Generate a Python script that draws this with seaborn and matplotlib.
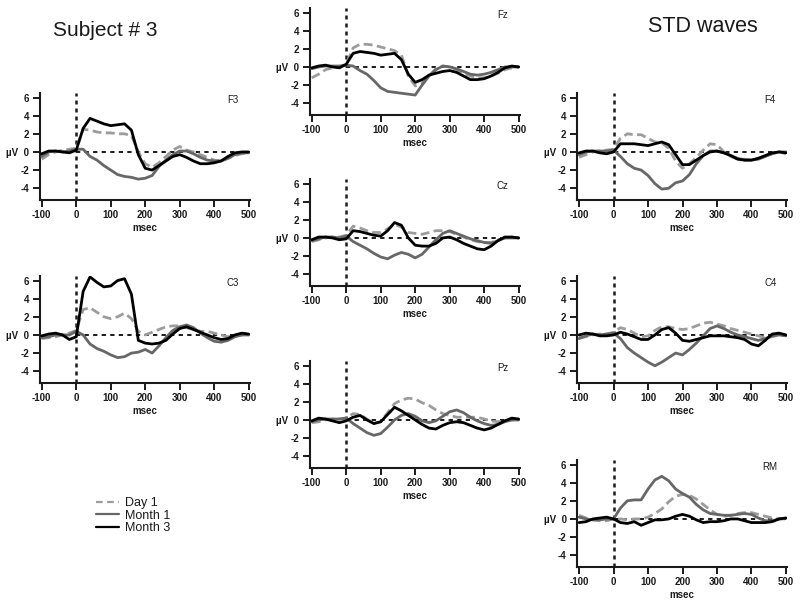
import numpy as np
import pandas as pd
import matplotlib
matplotlib.use("Agg")
import matplotlib.pyplot as plt
import seaborn as sns
from matplotlib.lines import Line2D

sns.set_theme(style="white")
plt.rcParams['font.family'] = ['Liberation Sans', 'DejaVu Sans']
plt.rcParams['text.color'] = 'black'
plt.rcParams['axes.labelcolor'] = 'black'
plt.rcParams['xtick.color'] = 'black'
plt.rcParams['ytick.color'] = 'black'

# ---------------- data ----------------
msec = [-100, -80, -60, -40, -20, 0, 20, 40, 60, 80, 100, 120, 140, 160, 180, 200,
        220, 240, 260, 280, 300, 320, 340, 360, 380, 400, 420, 440, 460, 480, 500]
conditions = ["Day 1", "Month 1", "Month 3"]
x_ticks = [-100, 0, 100, 200, 300, 400, 500]
y_ticks = [-4, -2, 0, 2, 4, 6]
y_tick_labels = ["-4", "-2", "\u00b5V  0", "2", "4", "6"]

F3_day1 = [-0.8, -0.3, 0.0, 0.2, 0.3, 0.4, 2.5, 2.4, 2.2, 2.1, 2.1, 2.0, 2.0, 1.8, 0.0, -1.3,
           -1.7, -1.2, -0.5, 0.2, 0.6, 0.2, 0.0, -0.3, -0.6, -0.9, -1.0, -0.7, -0.4, -0.2, -0.1]
F3_m1 = [-0.5, 0.0, 0.1, 0.0, 0.1, 0.3, 0.3, -0.5, -0.9, -1.5, -2.0, -2.5, -2.7, -2.8, -3.0, -2.9,
         -2.6, -1.6, -0.9, -0.3, 0.1, 0.1, -0.2, -0.6, -0.9, -1.0, -1.0, -0.7, -0.3, -0.1, -0.1]
F3_m3 = [-0.2, 0.1, 0.1, 0.0, -0.1, 0.2, 2.6, 3.7, 3.4, 3.1, 2.9, 3.0, 3.1, 2.4, -0.3, -1.8,
         -2.0, -1.5, -1.0, -0.5, -0.3, -0.6, -1.0, -1.3, -1.3, -1.2, -1.0, -0.5, -0.1, 0.0, 0.0]

C3_day1 = [-0.4, -0.3, -0.2, 0.0, 0.2, 0.5, 2.8, 3.0, 2.5, 2.0, 1.8, 2.0, 2.4, 1.8, 0.4, 0.0,
           0.3, 0.6, 0.9, 1.0, 1.0, 0.8, 0.6, 0.4, 0.4, 0.2, 0.0, -0.2, -0.1, 0.0, 0.0]
C3_m1 = [-0.3, -0.2, 0.0, 0.0, 0.0, 0.4, 0.0, -1.0, -1.5, -1.8, -2.2, -2.5, -2.4, -2.0, -1.9, -1.6,
         -2.0, -1.2, -0.3, 0.5, 0.9, 1.1, 0.8, 0.2, -0.3, -0.7, -0.8, -0.6, -0.2, 0.0, 0.0]
C3_m3 = [-0.1, 0.1, 0.2, 0.0, -0.5, -0.2, 4.8, 6.4, 5.8, 5.3, 5.4, 6.0, 6.2, 4.5, -0.6, -0.9,
         -1.0, -0.9, -0.6, 0.1, 0.7, 0.9, 0.6, 0.3, 0.0, -0.3, -0.5, -0.4, 0.0, 0.2, 0.1]

Fz_day1 = [-1.2, -0.8, -0.3, -0.1, 0.0, 0.3, 2.1, 2.5, 2.5, 2.4, 2.2, 2.0, 1.8, 1.3, -1.0, -2.1,
           -1.8, -1.0, -0.2, 0.1, 0.0, -0.3, -0.7, -1.0, -1.2, -1.2, -1.0, -0.7, -0.3, -0.1, 0.0]
Fz_m1 = [-0.2, 0.0, 0.1, 0.1, 0.1, 0.2, 0.1, -0.4, -0.8, -1.5, -2.3, -2.7, -2.8, -2.9, -3.0, -3.1,
         -2.0, -1.0, -0.3, 0.1, 0.0, -0.2, -0.5, -0.8, -0.9, -0.8, -0.6, -0.3, 0.0, 0.0, 0.0]
Fz_m3 = [-0.1, 0.1, 0.2, 0.0, -0.1, 0.3, 1.5, 1.7, 1.6, 1.5, 1.3, 1.4, 1.5, 0.8, -0.8, -1.7,
         -1.4, -0.9, -0.7, -0.5, -0.4, -0.6, -1.0, -1.4, -1.4, -1.3, -1.0, -0.6, -0.1, 0.1, 0.0]

Cz_day1 = [-0.4, -0.2, 0.0, 0.1, 0.1, 0.3, 1.3, 1.1, 0.8, 0.6, 0.6, 1.0, 1.5, 1.2, 0.6, 0.5,
           0.4, 0.6, 0.8, 0.8, 0.7, 0.4, 0.1, -0.2, -0.4, -0.5, -0.5, -0.2, 0.0, 0.1, 0.0]
Cz_m1 = [-0.3, -0.1, 0.1, 0.1, 0.0, 0.2, -0.4, -0.8, -1.2, -1.7, -2.1, -2.3, -1.9, -1.6, -1.8, -2.2,
         -1.8, -1.0, -0.2, 0.5, 0.8, 0.5, 0.2, -0.1, -0.3, -0.5, -0.6, -0.3, 0.0, 0.0, 0.0]
Cz_m3 = [-0.2, 0.1, 0.1, 0.0, -0.2, -0.1, 0.8, 0.7, 0.5, 0.3, 0.2, 0.8, 1.7, 1.4, 0.0, -0.8,
         -0.9, -0.9, -0.6, 0.0, 0.1, -0.2, -0.6, -0.9, -1.2, -1.3, -0.9, -0.3, 0.1, 0.1, 0.0]

Pz_day1 = [-0.3, -0.2, 0.0, 0.1, 0.1, 0.2, 0.7, 0.6, 0.1, -0.4, -0.2, 0.8, 1.8, 2.2, 2.4, 2.3,
           1.9, 1.6, 1.1, 0.7, 0.5, 0.3, 0.3, 0.3, 0.3, 0.1, -0.1, -0.2, -0.1, 0.0, 0.0]
Pz_m1 = [-0.2, 0.0, 0.1, 0.1, 0.1, 0.2, -0.4, -0.9, -1.4, -1.7, -1.5, -0.8, 0.0, 0.5, 0.7, 0.4,
         -0.1, -0.3, -0.1, 0.4, 0.9, 1.1, 0.8, 0.3, -0.1, -0.4, -0.6, -0.5, -0.2, 0.0, 0.0]
Pz_m3 = [-0.1, 0.2, 0.1, -0.1, -0.3, -0.1, 0.3, 0.5, 0.0, -0.4, -0.2, 0.6, 1.4, 1.0, 0.5, 0.0,
         -0.5, -0.9, -1.0, -0.6, -0.3, -0.2, -0.3, -0.6, -0.9, -1.1, -0.9, -0.5, -0.1, 0.2, 0.1]

F4_day1 = [-0.6, -0.3, 0.0, 0.1, 0.2, 0.3, 1.5, 2.0, 1.9, 1.9, 1.5, 1.1, 1.0, 0.4, -1.0, -1.8,
           -1.3, -0.6, 0.2, 0.9, 0.8, 0.0, -0.5, -0.8, -0.8, -0.9, -0.7, -0.4, -0.2, 0.0, -0.2]
F4_m1 = [-0.3, 0.0, 0.1, 0.1, 0.1, 0.2, -0.5, -1.3, -1.8, -2.0, -2.6, -3.5, -4.1, -4.0, -3.4, -3.2,
         -2.5, -1.3, -0.4, 0.1, 0.1, -0.1, -0.4, -0.7, -0.9, -0.9, -0.8, -0.5, -0.2, 0.0, 0.0]
F4_m3 = [-0.1, 0.1, 0.1, -0.1, -0.2, 0.0, 0.9, 0.9, 0.9, 0.8, 0.7, 0.9, 1.1, 0.8, -0.3, -1.4,
         -1.4, -0.9, -0.4, 0.0, 0.1, -0.1, -0.4, -0.8, -0.9, -0.9, -0.7, -0.4, -0.1, 0.0, -0.1]

C4_day1 = [-0.3, -0.2, 0.0, 0.1, 0.1, 0.3, 0.8, 0.6, 0.2, -0.2, -0.1, 0.5, 0.9, 0.9, 0.7, 0.6,
           0.7, 1.0, 1.3, 1.4, 1.2, 1.0, 0.7, 0.5, 0.3, 0.1, -0.1, -0.3, -0.2, 0.0, 0.0]
C4_m1 = [-0.4, -0.1, 0.1, 0.0, 0.1, 0.2, -0.4, -1.4, -2.0, -2.5, -3.0, -3.4, -3.0, -2.5, -2.0, -2.2,
         -1.6, -0.9, -0.1, 0.7, 1.0, 0.7, 0.3, 0.0, -0.2, -0.4, -0.6, -0.4, -0.1, 0.0, -0.1]
C4_m3 = [0.0, 0.2, 0.1, -0.1, -0.1, 0.0, 0.3, 0.1, -0.2, -0.5, -0.5, 0.0, 0.6, 0.8, 0.2, -0.6,
         -0.7, -0.5, -0.3, -0.1, -0.1, -0.1, -0.2, -0.3, -0.5, -1.0, -1.2, -0.6, 0.1, 0.2, 0.0]

RM_day1 = [0.4, 0.1, -0.1, -0.2, -0.2, 0.0, 0.0, -0.1, 0.0, 0.0, 0.2, 0.6, 1.1, 1.9, 2.5, 2.7,
           2.6, 2.2, 1.6, 1.0, 0.5, 0.3, 0.4, 0.6, 0.7, 0.7, 0.5, 0.3, 0.1, 0.0, 0.0]
RM_m1 = [0.2, 0.0, -0.1, -0.1, 0.0, 0.0, 1.2, 2.0, 2.1, 2.1, 3.3, 4.3, 4.7, 4.2, 3.3, 2.8,
         2.4, 1.6, 1.0, 0.6, 0.5, 0.4, 0.4, 0.5, 0.6, 0.5, 0.1, -0.2, -0.2, 0.0, 0.1]
RM_m3 = [-0.4, -0.3, 0.0, 0.1, 0.2, 0.0, -0.4, -0.5, -0.3, -0.7, -0.4, -0.1, -0.1, 0.0, 0.3, 0.5,
         0.3, -0.1, -0.4, -0.3, -0.3, -0.2, 0.0, 0.0, -0.2, -0.4, -0.4, -0.4, -0.3, 0.0, 0.1]

panels = [
    ("F3", (F3_day1, F3_m1, F3_m3)),
    ("C3", (C3_day1, C3_m1, C3_m3)),
    ("Fz", (Fz_day1, Fz_m1, Fz_m3)),
    ("Cz", (Cz_day1, Cz_m1, Cz_m3)),
    ("Pz", (Pz_day1, Pz_m1, Pz_m3)),
    ("F4", (F4_day1, F4_m1, F4_m3)),
    ("C4", (C4_day1, C4_m1, C4_m3)),
    ("RM", (RM_day1, RM_m1, RM_m3)),
]

# ---------------- layout (pixels) ----------------
W, H = 800, 607
AX_W, AX_H = 210, 107
positions = {
    "F3": (39.7, 93), "C3": (39.7, 276),
    "Fz": (309.7, 8), "Cz": (309.7, 179), "Pz": (309.7, 361),
    "F4": (577, 93), "C4": (577, 276), "RM": (577, 460),
}

palette = {"Day 1": "#9c9c9c", "Month 1": "#676767", "Month 3": "#000000"}
dashes = {"Day 1": (3.2, 1.6), "Month 1": "", "Month 3": ""}

fig = plt.figure(figsize=(W / 100, H / 100), dpi=100)

for name, series in panels:
    lx, ty = positions[name]
    ax = fig.add_axes([lx / W, 1 - (ty + AX_H) / H, AX_W / W, AX_H / H])
    df = pd.DataFrame({
        "msec": msec * 3,
        "uV": list(series[0]) + list(series[1]) + list(series[2]),
        "cond": [c for c in conditions for _ in msec],
    })
    ax.hlines(0, 0, 500, colors="k", linestyles=(0, (2.2, 2.2)), lw=1.4, zorder=1)
    ax.axvline(0, color="k", ls=(0, (1.6, 1.6)), lw=1.8, zorder=1)
    sns.lineplot(data=df, x="msec", y="uV", hue="cond", style="cond",
                 hue_order=conditions, style_order=conditions,
                 palette=palette, dashes=dashes, linewidth=2.0,
                 errorbar=None, legend=False, ax=ax, zorder=3)
    ax.set_xlim(-106, 503)
    ax.set_ylim(-5.3, 6.5)
    ax.set_xticks(x_ticks)
    ax.set_xticklabels([str(v) for v in x_ticks], fontweight="bold")
    ax.set_yticks(y_ticks)
    ax.set_yticklabels(y_tick_labels, fontweight="bold")
    ax.tick_params(axis="both", which="both", direction="out", length=5, width=1.4,
                   labelsize=7, pad=2.5, colors="k", left=True, bottom=True)
    ax.set_xlabel("msec", fontsize=7, fontweight="bold", labelpad=2, color="k")
    ax.set_ylabel("")
    for side in ("top", "right"):
        ax.spines[side].set_visible(False)
    for side in ("left", "bottom"):
        ax.spines[side].set_color("k")
        ax.spines[side].set_linewidth(1.5)
    ax.set_facecolor("none")
    ax.grid(False)
    ax.text(0.92, 0.93, name, transform=ax.transAxes, ha="center", va="center",
            fontsize=7, color="k")

fig.text(105 / W, 1 - 30 / H, "Subject # 3", ha="center", va="center", fontsize=15, color="k")
fig.text(703 / W, 1 - 27 / H, "STD waves", ha="center", va="center", fontsize=15.5, color="k")

handles = [Line2D([], [], color=palette[c], lw=1.6,
                  ls=(0, (3, 2)) if c == "Day 1" else "-") for c in conditions]
leg = fig.legend(handles, conditions, loc="upper left",
                 bbox_to_anchor=(96 / W, 1 - 497 / H), frameon=False, fontsize=9,
                 handlelength=1.85, handletextpad=0.45, labelspacing=0.05,
                 borderpad=0, borderaxespad=0)
for t in leg.get_texts():
    t.set_color("k")

fig.savefig("out.png", dpi=100, facecolor="white")
